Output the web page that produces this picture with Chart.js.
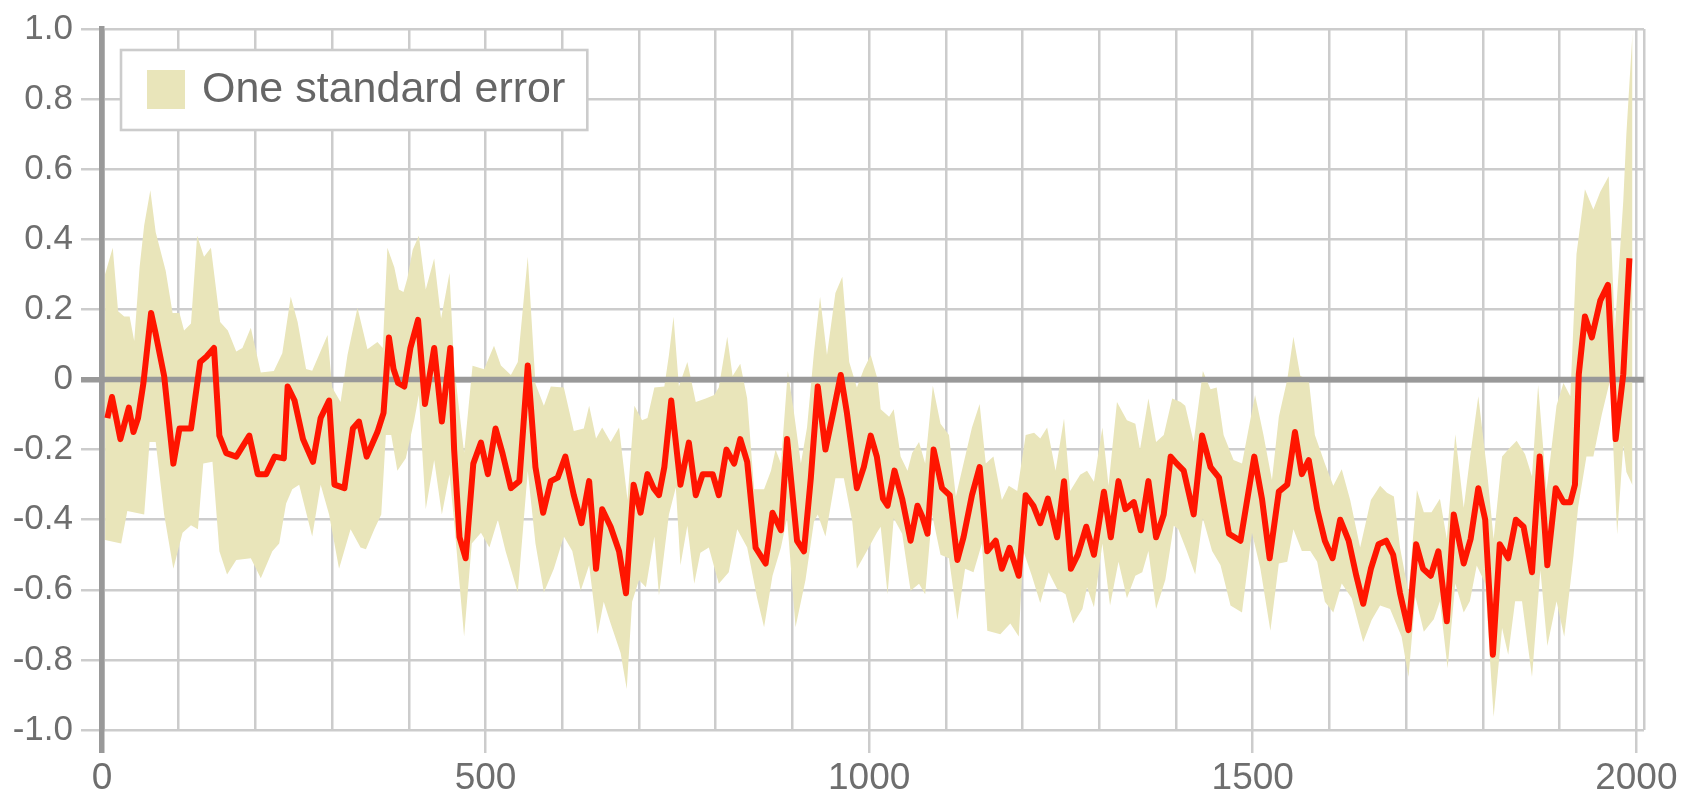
<!DOCTYPE html>
<html>
<head>
<meta charset="utf-8">
<script src="https://cdn.jsdelivr.net/npm/chart.js@4.4.1/dist/chart.umd.min.js"></script>
<style>
  html, body { margin: 0; padding: 0; background: #fff; }
  canvas { display: block; }
</style>
</head>
<body>
<canvas id="reconChart" width="1694" height="789"></canvas>
<script>
// [year, anomaly]
const redLine = [
  [7,-0.11],[13,-0.05],[24,-0.17],[35,-0.08],[41,-0.15],[47,-0.11],[54,-0.01],[64,0.19],[70,0.13],[81,0.01],
  [93,-0.24],[101,-0.14],[116,-0.14],[128,0.05],[136,0.065],[146,0.09],[153,-0.16],[162,-0.21],[175,-0.22],[192,-0.16],
  [203,-0.27],[214,-0.27],[225,-0.22],[237,-0.225],[242,-0.02],[251,-0.06],[262,-0.17],[275,-0.235],[285,-0.11],[296,-0.06],
  [303,-0.30],[316,-0.31],[327,-0.14],[335,-0.12],[345,-0.22],[359,-0.15],[367,-0.095],[374,0.12],[380,0.03],[386,-0.01],
  [394,-0.02],[402,0.09],[412,0.17],[421,-0.07],[433,0.09],[443,-0.12],[454,0.09],[459,-0.20],[466,-0.45],[474,-0.51],
  [484,-0.24],[494,-0.18],[503,-0.27],[513,-0.14],[522,-0.21],[533,-0.31],[544,-0.29],[555,0.04],[565,-0.25],[575,-0.38],
  [585,-0.29],[594,-0.28],[604,-0.22],[615,-0.33],[625,-0.41],[635,-0.29],[644,-0.54],[652,-0.37],[663,-0.42],[674,-0.49],
  [683,-0.61],[693,-0.30],[702,-0.38],[711,-0.27],[719,-0.31],[726,-0.33],[733,-0.25],[742,-0.06],[754,-0.30],[765,-0.18],
  [774,-0.33],[783,-0.27],[796,-0.27],[804,-0.33],[814,-0.20],[824,-0.24],[832,-0.17],[841,-0.235],[852,-0.48],[865,-0.525],
  [874,-0.38],[885,-0.43],[893,-0.17],[906,-0.46],[915,-0.49],[924,-0.28],[933,-0.02],[943,-0.20],[954,-0.085],[963,0.013],
  [971,-0.095],[984,-0.31],[993,-0.25],[1002,-0.16],[1010,-0.22],[1018,-0.34],[1024,-0.36],[1033,-0.26],[1043,-0.34],[1054,-0.46],
  [1063,-0.36],[1069,-0.39],[1076,-0.44],[1084,-0.20],[1095,-0.31],[1105,-0.33],[1115,-0.515],[1123,-0.45],[1134,-0.33],[1144,-0.25],
  [1154,-0.49],[1165,-0.46],[1173,-0.54],[1183,-0.48],[1195,-0.56],[1204,-0.33],[1214,-0.36],[1223,-0.41],[1233,-0.34],[1245,-0.45],
  [1254,-0.29],[1263,-0.54],[1272,-0.50],[1283,-0.42],[1293,-0.50],[1306,-0.32],[1315,-0.45],[1325,-0.29],[1334,-0.37],[1345,-0.35],
  [1354,-0.43],[1364,-0.29],[1374,-0.45],[1384,-0.385],[1393,-0.22],[1401,-0.24],[1410,-0.26],[1423,-0.385],[1434,-0.16],[1445,-0.25],
  [1456,-0.28],[1469,-0.44],[1484,-0.46],[1502,-0.22],[1512,-0.34],[1522,-0.51],[1534,-0.32],[1545,-0.30],[1555,-0.15],[1564,-0.27],
  [1573,-0.23],[1584,-0.37],[1594,-0.46],[1604,-0.51],[1614,-0.40],[1625,-0.46],[1635,-0.56],[1644,-0.64],[1654,-0.54],[1664,-0.47],
  [1674,-0.46],[1683,-0.50],[1692,-0.61],[1703,-0.715],[1713,-0.47],[1722,-0.54],[1732,-0.56],[1742,-0.49],[1753,-0.69],[1762,-0.385],
  [1775,-0.525],[1784,-0.455],[1794,-0.31],[1803,-0.40],[1813,-0.785],[1822,-0.47],[1833,-0.51],[1843,-0.40],[1853,-0.42],[1864,-0.55],
  [1874,-0.22],[1884,-0.53],[1895,-0.31],[1905,-0.35],[1914,-0.35],[1920,-0.30],[1925,0.015],[1933,0.18],[1942,0.12],[1953,0.225],
  [1963,0.27],[1973,-0.17],[1983,0.015],[1991,0.346]
];

// upper edge of the one standard error band
const bandUpper = [
  [4,0.30],[14,0.376],[21,0.195],[29,0.18],[36,0.18],[42,0.11],[49,0.32],[55,0.44],[63,0.54],[70,0.42],
  [83,0.31],[92,0.19],[101,0.19],[107,0.14],[116,0.16],[124,0.41],[133,0.35],[142,0.376],[154,0.164],[164,0.14],
  [175,0.08],[183,0.09],[194,0.148],[207,0.02],[224,0.024],[235,0.075],[246,0.236],[255,0.164],[266,0.03],[274,0.025],
  [294,0.127],[300,-0.023],[311,-0.064],[320,0.07],[333,0.205],[346,0.086],[359,0.107],[366,0.09],[372,0.376],[381,0.32],
  [387,0.257],[393,0.25],[398,0.288],[405,0.37],[413,0.41],[422,0.257],[433,0.345],[442,0.174],[453,0.304],[459,0.039],
  [472,-0.209],[483,0.039],[498,0.029],[511,0.096],[520,0.04],[533,0.013],[542,0.05],[555,0.35],[565,-0.012],[576,-0.075],
  [585,-0.02],[602,-0.023],[615,-0.147],[628,-0.14],[635,-0.075],[644,-0.168],[652,-0.137],[663,-0.178],[674,-0.137],[685,-0.344],
  [694,-0.075],[704,-0.116],[711,-0.11],[720,-0.023],[733,-0.02],[739,0.07],[745,0.179],[752,-0.02],[763,0.05],[774,-0.064],
  [787,-0.054],[798,-0.044],[804,-0.023],[815,0.122],[822,0.01],[832,0.045],[841,-0.054],[850,-0.313],[863,-0.313],[872,-0.26],
  [878,-0.2],[885,-0.24],[894,0.024],[902,-0.095],[911,-0.24],[919,-0.137],[928,0.076],[936,0.236],[945,0.07],[956,0.247],
  [965,0.293],[974,0.05],[984,-0.023],[993,0.029],[1002,0.07],[1011,0.0],[1015,-0.085],[1026,-0.106],[1032,-0.085],[1041,-0.22],
  [1050,-0.26],[1056,-0.21],[1065,-0.178],[1073,-0.24],[1083,-0.018],[1093,-0.126],[1104,-0.158],[1113,-0.334],[1123,-0.24],[1134,-0.137],
  [1144,-0.07],[1152,-0.24],[1162,-0.22],[1173,-0.344],[1182,-0.303],[1193,-0.318],[1204,-0.158],[1215,-0.152],[1223,-0.168],[1232,-0.137],
  [1243,-0.26],[1254,-0.111],[1262,-0.318],[1275,-0.272],[1284,-0.26],[1293,-0.292],[1304,-0.137],[1312,-0.303],[1323,-0.064],[1336,-0.116],
  [1347,-0.126],[1353,-0.2],[1364,-0.054],[1374,-0.178],[1384,-0.158],[1395,-0.054],[1406,-0.064],[1412,-0.075],[1423,-0.178],[1435,0.024],
  [1445,-0.028],[1453,-0.023],[1462,-0.158],[1475,-0.23],[1486,-0.24],[1503,-0.044],[1514,-0.158],[1525,-0.287],[1534,-0.106],[1545,0.0],
  [1553,0.122],[1562,0.01],[1573,0.0],[1581,-0.158],[1594,-0.24],[1605,-0.303],[1616,-0.256],[1627,-0.344],[1640,-0.479],[1654,-0.344],
  [1666,-0.303],[1675,-0.323],[1684,-0.334],[1692,-0.48],[1703,-0.607],[1714,-0.315],[1723,-0.379],[1733,-0.379],[1744,-0.34],[1753,-0.455],
  [1764,-0.156],[1775,-0.366],[1783,-0.226],[1794,-0.048],[1805,-0.252],[1814,-0.455],[1825,-0.22],[1833,-0.2],[1844,-0.175],[1855,-0.213],
  [1864,-0.277],[1872,-0.016],[1883,-0.315],[1896,-0.074],[1905,-0.01],[1914,-0.048],[1922,0.358],[1933,0.543],[1944,0.485],[1953,0.536],
  [1964,0.58],[1972,0.142],[1983,0.51],[1987,0.70],[1995,0.99]
];

// lower edge of the band
const bandLower = [
  [4,-0.458],[25,-0.468],[33,-0.375],[55,-0.385],[62,-0.178],[70,-0.178],[81,-0.385],[93,-0.54],[105,-0.437],[116,-0.416],
  [125,-0.427],[132,-0.24],[144,-0.235],[153,-0.49],[163,-0.556],[175,-0.515],[194,-0.51],[207,-0.567],[222,-0.49],[231,-0.468],
  [240,-0.354],[248,-0.313],[257,-0.30],[274,-0.448],[285,-0.30],[296,-0.385],[309,-0.54],[324,-0.427],[337,-0.479],[344,-0.484],
  [355,-0.427],[364,-0.385],[370,-0.158],[377,-0.158],[385,-0.26],[396,-0.225],[407,-0.116],[413,-0.044],[422,-0.37],[433,-0.23],
  [443,-0.385],[453,-0.27],[459,-0.406],[472,-0.733],[482,-0.468],[494,-0.437],[505,-0.479],[516,-0.40],[526,-0.489],[542,-0.608],
  [555,-0.261],[565,-0.468],[576,-0.608],[589,-0.54],[602,-0.448],[613,-0.489],[624,-0.603],[635,-0.53],[646,-0.727],[654,-0.634],
  [663,-0.696],[676,-0.78],[684,-0.883],[691,-0.634],[700,-0.572],[709,-0.593],[720,-0.448],[726,-0.616],[739,-0.385],[748,-0.308],
  [754,-0.53],[763,-0.417],[772,-0.583],[780,-0.494],[791,-0.479],[804,-0.583],[817,-0.55],[828,-0.427],[841,-0.479],[854,-0.624],
  [863,-0.707],[874,-0.56],[885,-0.479],[893,-0.396],[904,-0.707],[917,-0.572],[928,-0.406],[933,-0.385],[943,-0.448],[956,-0.282],
  [967,-0.282],[978,-0.406],[984,-0.54],[997,-0.489],[1010,-0.437],[1015,-0.42],[1024,-0.613],[1032,-0.396],[1043,-0.44],[1054,-0.603],
  [1065,-0.583],[1073,-0.613],[1082,-0.385],[1093,-0.5],[1104,-0.51],[1115,-0.686],[1125,-0.54],[1136,-0.55],[1147,-0.468],[1154,-0.717],
  [1171,-0.727],[1184,-0.696],[1195,-0.733],[1201,-0.489],[1212,-0.56],[1223,-0.638],[1234,-0.55],[1245,-0.598],[1256,-0.613],[1266,-0.696],
  [1278,-0.655],[1284,-0.593],[1293,-0.65],[1304,-0.468],[1314,-0.645],[1325,-0.52],[1336,-0.624],[1347,-0.56],[1356,-0.55],[1364,-0.489],
  [1374,-0.655],[1386,-0.572],[1397,-0.417],[1403,-0.427],[1414,-0.489],[1425,-0.556],[1435,-0.396],[1447,-0.489],[1458,-0.53],[1471,-0.645],
  [1486,-0.665],[1499,-0.437],[1510,-0.54],[1523,-0.717],[1534,-0.525],[1545,-0.52],[1553,-0.427],[1564,-0.489],[1575,-0.489],[1584,-0.52],
  [1594,-0.634],[1605,-0.665],[1616,-0.582],[1629,-0.624],[1644,-0.749],[1655,-0.686],[1666,-0.645],[1679,-0.655],[1694,-0.734],[1703,-0.849],
  [1712,-0.62],[1723,-0.72],[1736,-0.684],[1744,-0.633],[1754,-0.824],[1764,-0.582],[1775,-0.665],[1783,-0.633],[1792,-0.531],[1803,-0.582],
  [1814,-0.963],[1825,-0.709],[1833,-0.785],[1842,-0.633],[1851,-0.633],[1864,-0.849],[1875,-0.544],[1884,-0.76],[1896,-0.633],[1906,-0.734],
  [1918,-0.506],[1924,-0.366],[1935,-0.22],[1944,-0.22],[1955,-0.1],[1966,0.0],[1975,-0.442],[1983,-0.188],[1987,-0.264],[1995,-0.302]
];

// axes
const gridYears = [0,100,200,300,400,500,600,700,800,900,1000,1100,1200,1300,1400,1500,1600,1700,1800,1900,2000];
const labelYears = [0, 500, 1000, 1500, 2000];
const xMax = 2010;
const yTicks = [-1, -0.8, -0.6, -0.4, -0.2, 0, 0.2, 0.4, 0.6, 0.8, 1];

const gridColor = '#cccccc';
const axisColor = '#999999';
const textColor = '#6e6e6e';

Chart.defaults.font.family = "'Liberation Sans', Arial, sans-serif";

// zero line sits above the band but under the red line
const zeroLine = {
    id: 'zeroLine',
    beforeDatasetDraw(chart, args) {
        if (args.index !== 0) return;
        const { ctx, chartArea, scales } = chart;
        const y0 = scales.y.getPixelForValue(0);
        ctx.save();
        ctx.strokeStyle = axisColor;
        ctx.lineWidth = 5.5;
        ctx.beginPath();
        ctx.moveTo(chartArea.left, y0);
        ctx.lineTo(chartArea.right, y0);
        ctx.stroke();
        ctx.restore();
    }
};

// boxed legend in the top left corner of the plot
const legendBox = {
    id: 'legendBox',
    afterDatasetsDraw(chart) {
        const ctx = chart.ctx;
        const area = chart.chartArea;
        const band = chart.data.datasets[1];
        ctx.save();
        ctx.font = "43px 'Liberation Sans', Arial, sans-serif";
        const textW = ctx.measureText(band.label).width;
        const left = area.left + 19, top = area.top + 21;
        const w = 26 + 38 + 17 + textW + 22, h = 80;
        ctx.fillStyle = '#fff';
        ctx.fillRect(left, top, w, h);
        ctx.strokeStyle = gridColor;
        ctx.lineWidth = 2.6;
        ctx.strokeRect(left, top, w, h);
        ctx.fillStyle = band.backgroundColor;
        ctx.fillRect(left + 26, top + 20, 38, 39);
        ctx.fillStyle = '#666';
        ctx.textBaseline = 'alphabetic';
        ctx.fillText(band.label, left + 81, top + 52);
        ctx.restore();
    }
};

const isZero = v => Math.abs(v) < 1e-9;
const toPts = arr => arr.map(p => ({ x: p[0], y: p[1] }));

new Chart(document.getElementById('reconChart').getContext('2d'), {
    type: 'line',
    data: {
        datasets: [
            {
                label: 'Reconstruction',
                data: toPts(redLine),
                borderColor: '#ff1500',
                borderWidth: 6,
                borderJoinStyle: 'round',
                pointRadius: 0,
                tension: 0,
                fill: false
            },
            {
                label: 'One standard error',
                data: toPts(bandUpper),
                borderColor: 'rgba(0,0,0,0)',
                borderWidth: 1,
                backgroundColor: '#e9e5ba',
                pointRadius: 0,
                tension: 0,
                fill: '+1'
            },
            {
                label: 'lower',
                data: toPts(bandLower),
                borderColor: 'rgba(0,0,0,0)',
                borderWidth: 1,
                pointRadius: 0,
                tension: 0,
                fill: false
            }
        ]
    },
    options: {
        responsive: false,
        animation: false,
        events: [],
        layout: { padding: { top: 27, right: 50, left: 0, bottom: 0 } },
        scales: {
            x: {
                type: 'linear',
                min: 0,
                max: xMax,
                afterBuildTicks: s => { s.ticks = gridYears.concat([xMax]).map(v => ({ value: v })); },
                afterFit: s => { s.height = 59; },
                border: { display: false },
                grid: {
                    color: ctx => ctx.tick && ctx.tick.value === 0 ? axisColor : gridColor,
                    lineWidth: ctx => ctx.tick && ctx.tick.value === 0 ? 5.5 : 2.5,
                    tickLength: 23,
                    tickColor: ctx => {
                        const v = ctx.tick.value;
                        if (v === 0) return axisColor;
                        return labelYears.includes(v) ? gridColor : 'rgba(0,0,0,0)';
                    },
                    tickWidth: ctx => ctx.tick.value === 0 ? 5.5 : 2.5
                },
                ticks: {
                    autoSkip: false,
                    maxRotation: 0,
                    padding: 4,
                    color: textColor,
                    font: { size: 37 },
                    callback: v => labelYears.includes(v) ? String(v) : ''
                }
            },
            y: {
                min: -1,
                max: 1,
                afterBuildTicks: s => { s.ticks = yTicks.map(v => ({ value: v })); },
                afterFit: s => { s.width = 102; },
                border: { display: true, color: axisColor, width: 5.5 },
                grid: {
                    color: ctx => ctx.tick && isZero(ctx.tick.value) ? axisColor : gridColor,
                    lineWidth: ctx => ctx.tick && isZero(ctx.tick.value) ? 5.5 : 2.5,
                    tickLength: 21,
                    tickColor: ctx => isZero(ctx.tick.value) ? axisColor : gridColor,
                    tickWidth: ctx => isZero(ctx.tick.value) ? 5.5 : 2.5
                },
                ticks: {
                    padding: 8,
                    color: textColor,
                    font: { size: 35 },
                    callback: v => isZero(v) ? '0' : v.toFixed(1)
                }
            }
        },
        plugins: {
            legend: { display: false },
            tooltip: { enabled: false }
        }
    },
    plugins: [zeroLine, legendBox]
});
</script>
</body>
</html>
